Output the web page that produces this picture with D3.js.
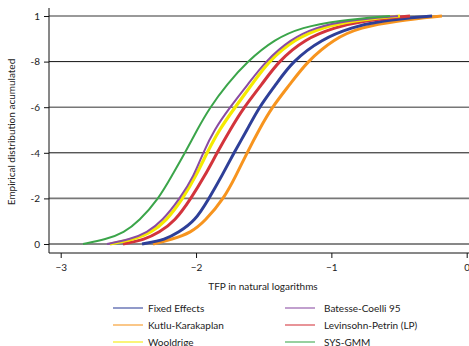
<!DOCTYPE html>
<html>
<head>
<meta charset="utf-8">
<script src="https://cdn.jsdelivr.net/npm/d3@7"></script>
<style>
  body { margin: 0; background: #fff; }
  svg text { font-family: Lato, "Open Sans", sans-serif; fill: #222; }
</style>
</head>
<body>
<div id="chart"></div>
<script>
// cumulative share levels shared by every series
const levels = [0, 0.02, 0.05, 0.1, 0.2, 0.3, 0.4, 0.5, 0.6, 0.7, 0.8, 0.9, 0.95, 0.98, 1];

// TFP (log) value reached at each level
const fixedEffects = [-2.399, -2.222, -2.133, -2.008, -1.904, -1.808, -1.720, -1.623, -1.535, -1.409, -1.291, -1.069, -0.848, -0.641, -0.256];
const kutlu = [-2.318, -2.178, -2.037, -1.934, -1.793, -1.705, -1.623, -1.535, -1.439, -1.306, -1.180, -0.981, -0.788, -0.508, -0.183];
const wooldridge = [-2.636, -2.458, -2.333, -2.222, -2.096, -2.000, -1.919, -1.830, -1.712, -1.586, -1.468, -1.269, -1.069, -0.840, -0.493];
const batesse = [-2.658, -2.488, -2.362, -2.251, -2.118, -2.015, -1.948, -1.867, -1.749, -1.616, -1.490, -1.298, -1.114, -0.899, -0.508];
const levinsohn = [-2.540, -2.377, -2.274, -2.155, -2.037, -1.934, -1.845, -1.749, -1.646, -1.513, -1.394, -1.195, -0.973, -0.766, -0.419];
const sysGmm = [-2.835, -2.665, -2.532, -2.421, -2.274, -2.178, -2.081, -1.993, -1.897, -1.771, -1.623, -1.416, -1.217, -0.958, -0.567];

const xTicks = [-3, -2, -1, 0];
const yTicks = [0, 0.2, 0.4, 0.6, 0.8, 1];
const yTickLabels = ['0', '-2', '-4', '-6', '-8', '1'];

const series = [
  { name: 'Kutlu-Karakaplan', values: kutlu, color: '#f7941e', width: 3 },
  { name: 'Fixed Effects', values: fixedEffects, color: '#2e3f98', width: 3 },
  { name: 'Levinsohn-Petrin (LP)', values: levinsohn, color: '#d3343c', width: 3 },
  { name: 'Wooldrige', values: wooldridge, color: '#f5ea00', width: 3.2 },
  { name: 'Batesse-Coelli 95', values: batesse, color: '#8a4ba3', width: 2 },
  { name: 'SYS-GMM', values: sysGmm, color: '#3ba54a', width: 2 }
];

const legendOrder = [
  ['Fixed Effects', 'Batesse-Coelli 95'],
  ['Kutlu-Karakaplan', 'Levinsohn-Petrin (LP)'],
  ['Wooldrige', 'SYS-GMM']
];

const W = 469, H = 346;
const svg = d3.select('#chart').append('svg')
  .attr('width', W)
  .attr('height', H);

const x = d3.scaleLinear().domain([-3, 0]).range([60.7, 466.7]);
const y = d3.scaleLinear().domain([0, 1]).range([244, 16]);
const plotLeft = 49, plotRight = 469, plotBottom = 253;

// gridlines, alternating grey and black
svg.append('g').selectAll('line')
  .data(yTicks)
  .enter().append('line')
  .attr('x1', plotLeft).attr('x2', plotRight)
  .attr('y1', d => y(d)).attr('y2', d => y(d))
  .attr('stroke', (d, i) => i % 2 === 0 ? '#111' : '#777')
  .attr('stroke-width', (d, i) => i % 2 === 0 ? 1 : 1.6);

// y axis
const yAxis = svg.append('g')
  .attr('transform', `translate(${plotLeft},0)`)
  .call(d3.axisLeft(y).tickValues(yTicks).tickSize(5).tickPadding(4)
    .tickFormat((d, i) => yTickLabels[i]));
yAxis.select('.domain').remove();
yAxis.selectAll('.tick line').attr('stroke', '#111');
yAxis.selectAll('.tick text').style('font-size', '10px').style('font-family', 'Lato, sans-serif').attr('fill', '#222');
svg.append('line')
  .attr('x1', plotLeft).attr('x2', plotLeft)
  .attr('y1', 8).attr('y2', plotBottom)
  .attr('stroke', '#111');

// x axis
const xAxis = svg.append('g')
  .attr('transform', `translate(0,${plotBottom})`)
  .call(d3.axisBottom(x).tickValues(xTicks).tickSize(5).tickPadding(6).tickFormat(d3.format('d')));
xAxis.select('.domain').remove();
xAxis.selectAll('.tick line').attr('stroke', '#111');
xAxis.selectAll('.tick text').style('font-size', '10px').style('font-family', 'Lato, sans-serif').attr('fill', '#222');
svg.append('line')
  .attr('x1', plotLeft).attr('x2', plotRight)
  .attr('y1', plotBottom).attr('y2', plotBottom)
  .attr('stroke', '#111');

// curves (basis smooths out reading noise)
const line = d3.line()
  .x(d => x(d[0]))
  .y(d => y(d[1]))
  .curve(d3.curveBasis);

svg.append('g').selectAll('path')
  .data(series)
  .enter().append('path')
  .attr('d', s => line(s.values.map((v, i) => [v, levels[i]])))
  .attr('fill', 'none')
  .attr('stroke', s => s.color)
  .attr('stroke-width', s => s.width)
  .attr('stroke-linecap', 'butt');

// axis titles
svg.append('text')
  .attr('x', 263).attr('y', 290)
  .attr('text-anchor', 'middle')
  .style('font-size', '10px')
  .text('TFP in natural logarithms');

svg.append('text')
  .attr('transform', 'translate(15,132) rotate(-90)')
  .attr('text-anchor', 'middle')
  .style('font-size', '10px')
  .text('Empirical distribution acumulated');

// legend
const colX = [113, 285];
const rowY = [308, 325, 342];
const byName = {};
series.forEach(s => { byName[s.name] = s; });
legendOrder.forEach((row, r) => {
  row.forEach((name, c) => {
    const s = byName[name];
    const g = svg.append('g').attr('transform', `translate(${colX[c]},${rowY[r]})`);
    g.append('line')
      .attr('x1', 0).attr('x2', 30)
      .attr('y1', 0).attr('y2', 0)
      .attr('stroke', s.color)
      .attr('stroke-opacity', 0.7)
      .attr('stroke-width', 1.5);
    g.append('text')
      .attr('x', c === 0 ? 35 : 39)
      .attr('y', 0)
      .attr('dy', '0.35em')
      .style('font-size', '10px')
      .text(name);
  });
});
</script>
</body>
</html>
